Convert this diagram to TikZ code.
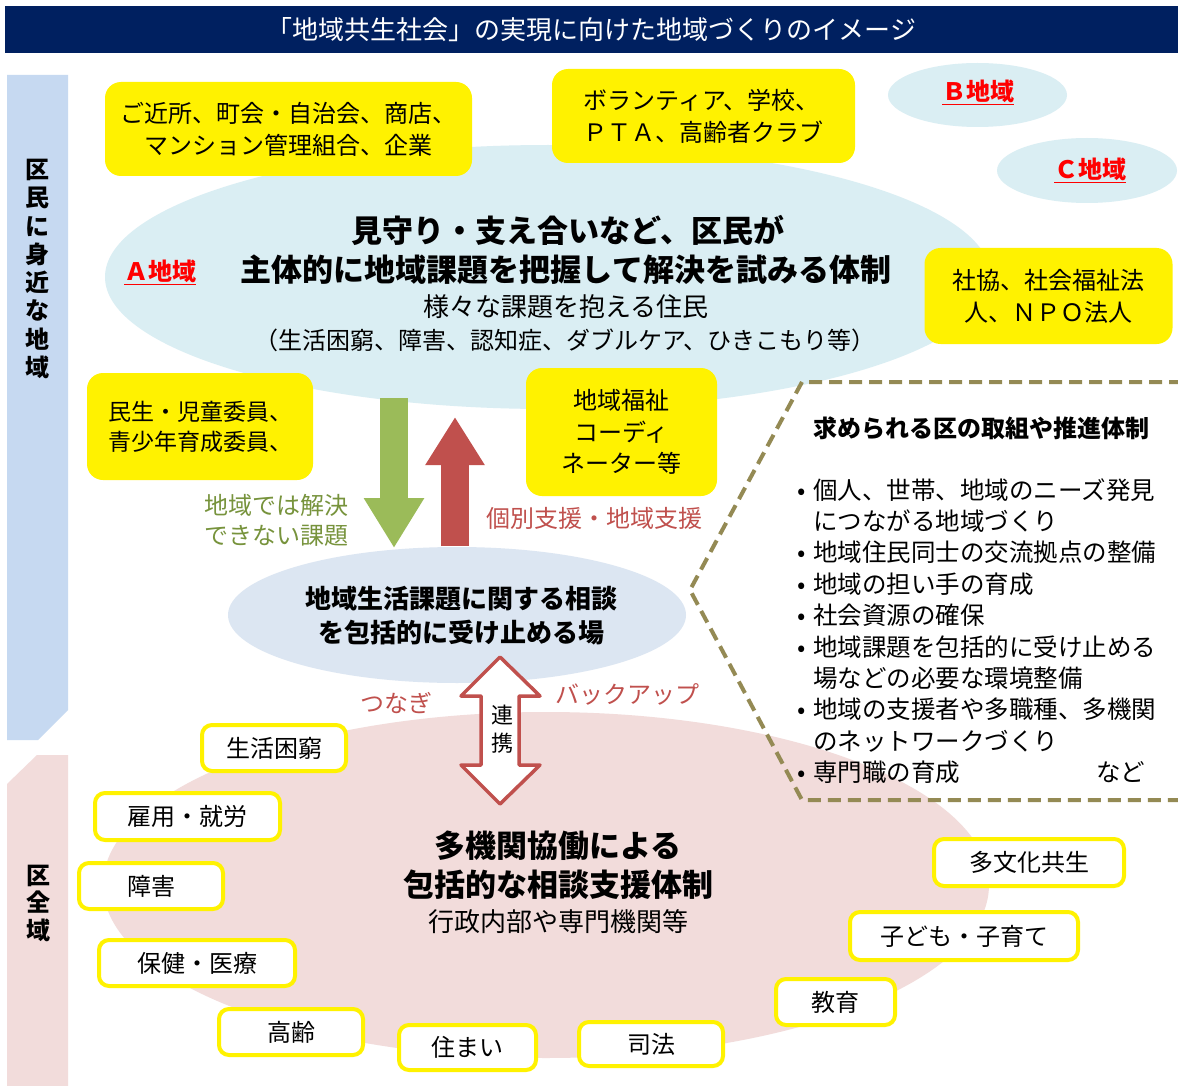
\documentclass[tikz,border=0pt]{standalone}
\usepackage{fontspec}
\setmainfont{Noto Sans CJK JP}
\usetikzlibrary{arrows.meta,shapes.geometric}
\definecolor{navy}{HTML}{002060}
\definecolor{barblue}{HTML}{C6D9F1}
\definecolor{barpink}{HTML}{F2DCDB}
\definecolor{ellA}{HTML}{DAEEF3}
\definecolor{ellM}{HTML}{DCE6F2}
\definecolor{ellP}{HTML}{F2DCDB}
\definecolor{arrgreen}{HTML}{9BBB59}
\definecolor{arrred}{HTML}{C0504D}
\definecolor{txtgreen}{HTML}{77933C}
\definecolor{txtred}{HTML}{C0504D}
\definecolor{olive}{HTML}{948A54}
\newcommand{\fs}[2]{\fontsize{#1}{#2}\selectfont}
\newcommand{\bul}{\makebox[16pt][l]{•}}
\begin{document}
\begin{tikzpicture}[x=1pt,y=-1pt,
  ybox/.style={fill=yellow, rounded corners=16pt, inner sep=0pt, align=center, font=\fs{24}{32}},
  wbox/.style={draw=yellow, line width=4pt, fill=white, rounded corners=10pt, inner sep=0pt, font=\fs{24}{28}},
  ell/.style={ellipse, inner sep=0pt, draw=none},
  lbl/.style={inner sep=0pt, align=center},
  region/.style={inner sep=0pt, text=red, font=\fs{24}{24}\bfseries},
  vlabel/.style={inner sep=0pt, align=center, font=\fs{24}{28.3}\bfseries},
  bigarrow/.style={line width=28pt},
  dashline/.style={draw=olive, line width=4pt, dash pattern=on 13pt off 7pt}
]
\useasboundingbox (0,0) rectangle (1178,1086);
\fill[white] (0,0) rectangle (1178,1086);

% title
\node[fill=navy, minimum width=1173pt, minimum height=47pt, inner sep=0pt, text=white, font=\fs{26}{26}] (title) at (591.5,29.5) {「地域共生社会」の実現に向けた地域づくりのイメージ};

% side bars
\fill[barblue] (7,75) -- (68,75) -- (68,710) -- (38,740) -- (7,740) -- cycle;
\fill[barpink] (7,784) -- (37,755) -- (68,755) -- (68,1086) -- (7,1086) -- cycle;
\node[vlabel] (vl1) at (37,269) {区\\民\\に\\身\\近\\な\\地\\域};
\node[vlabel, font=\fs{24}{27.5}\bfseries] (vl2) at (38,903) {区\\全\\域};

% ellipses
\node[ell, fill=ellA, minimum width=886pt, minimum height=264pt] (A) at (548,277) {};
\node[ell, fill=ellA, minimum width=179pt, minimum height=64pt] (B) at (977.5,95) {};
\node[ell, fill=ellA, minimum width=180pt, minimum height=65pt] (C) at (1087,170.5) {};
\node[ell, fill=ellM, minimum width=458pt, minimum height=136pt] (M) at (457,615) {};
\node[ell, fill=ellP, minimum width=886pt, minimum height=346pt] (P) at (546,885) {};

% dashed area
\draw[dashline, line join=miter] (1182,382) -- (802,382) -- (690,590) -- (802,800) -- (1182,800);

% region labels
\node[region] (la) at (160,272) {\underline{Ａ地域}};
\node[region] (lb) at (978,92) {\underline{Ｂ地域}};
\node[region] (lc) at (1090,170) {\underline{Ｃ地域}};

% texts in A
\node[lbl, font=\fs{31}{31}\bfseries] (a1) at (568,230) {見守り・支え合いなど、区民が};
\node[lbl, font=\fs{31}{31}\bfseries] (a2) at (566,270) {主体的に地域課題を把握して解決を試みる体制};
\node[lbl, font=\fs{26}{26}] (a3) at (566,307) {様々な課題を抱える住民};
\node[lbl, font=\fs{24}{24}] (a4) at (565,340) {（生活困窮、障害、認知症、ダブルケア、ひきこもり等）};

% yellow boxes
\node[ybox, minimum width=367pt, minimum height=94pt] (y1) at (288.5,129) {ご近所、町会・自治会、商店、\\マンション管理組合、企業};
\node[ybox, minimum width=303pt, minimum height=94pt, align=left] (y2) at (703.5,116) {ボランティア、学校、\\ＰＴＡ、高齢者クラブ};
\node[ybox, minimum width=248pt, minimum height=96pt] (y3) at (1048.5,296) {社協、社会福祉法\\人、ＮＰＯ法人};
\node[ybox, minimum width=226pt, minimum height=107pt, align=left, font=\fs{23}{30}] (y4) at (200,426.5) {民生・児童委員、\\青少年育成委員、};
\node[ybox, minimum width=191pt, minimum height=128pt, font=\fs{24}{31.5}] (y5) at (621.5,432) {地域福祉\\コーディ\\ネーター等};

% arrows between A and M
\coordinate (g1) at (394,398);
\coordinate (g2) at (394,548);
\coordinate (r1) at (455,546);
\coordinate (r2) at (455,417);
\draw[bigarrow, draw=arrgreen, -{Triangle[length=50pt,width=57pt]}] (g1) -- (g2);
\draw[bigarrow, draw=arrred, -{Triangle[length=48pt,width=56pt]}] (r1) -- (r2);
\node[lbl, align=left, text=txtgreen, font=\fs{24}{30}] (tg) at (276,520) {地域では解決\\できない課題};
\node[lbl, text=txtred, font=\fs{24}{24}] (tr) at (594,518) {個別支援・地域支援};

% middle ellipse text
\node[lbl, font=\fs{26}{34}\bfseries] (m1) at (461,616) {地域生活課題に関する相談\\を包括的に受け止める場};

% double arrow
\draw[draw=arrred, line width=3.5pt, fill=white, line join=round]
  (500,657) -- (540,696) -- (519,696) -- (519,765) -- (540,765) -- (500,804)
  -- (461,765) -- (481,765) -- (481,696) -- (461,696) -- cycle;
\node[lbl, font=\fs{22}{28}] (rk) at (502,729) {連\\携};
\node[lbl, text=txtred, font=\fs{24}{24}] (tn) at (396,703) {つなぎ};
\node[lbl, text=txtred, font=\fs{24}{24}] (tb) at (627,694) {バックアップ};

% pink ellipse texts
\node[lbl, font=\fs{31}{39}\bfseries] (p1) at (558,865) {多機関協働による\\包括的な相談支援体制};
\node[lbl, font=\fs{26}{26}] (p2) at (558,922) {行政内部や専門機関等};

% white boxes
\node[wbox, minimum width=144pt, minimum height=46pt] (w1) at (274,748) {生活困窮};
\node[wbox, minimum width=185pt, minimum height=47pt] (w2) at (187.5,816.5) {雇用・就労};
\node[wbox, minimum width=144pt, minimum height=46pt] (w3) at (151,886) {障害};
\node[wbox, minimum width=196pt, minimum height=46pt] (w4) at (197,963) {保健・医療};
\node[wbox, minimum width=144pt, minimum height=46pt] (w5) at (291,1032) {高齢};
\node[wbox, minimum width=137pt, minimum height=45pt] (w6) at (467.5,1047.5) {住まい};
\node[wbox, minimum width=144pt, minimum height=44pt] (w7) at (651,1044) {司法};
\node[wbox, minimum width=119pt, minimum height=46pt] (w8) at (835.5,1002) {教育};
\node[wbox, minimum width=228pt, minimum height=48pt] (w9) at (964,936) {子ども・子育て};
\node[wbox, minimum width=190pt, minimum height=47pt] (w10) at (1029,862.5) {多文化共生};

% dashed area texts
\node[lbl, anchor=west, font=\fs{24}{24}\bfseries] (dh) at (813,428) {求められる区の取組や推進体制};
\node[lbl, anchor=north west, align=left, font=\fs{24.5}{31.4}] (dl) at (797,478) {%
\bul 個人、世帯、地域のニーズ発見\\
\hspace*{16pt}につながる地域づくり\\
\bul 地域住民同士の交流拠点の整備\\
\bul 地域の担い手の育成\\
\bul 社会資源の確保\\
\bul 地域課題を包括的に受け止める\\
\hspace*{16pt}場などの必要な環境整備\\
\bul 地域の支援者や多職種、多機関\\
\hspace*{16pt}のネットワークづくり\\
\bul 専門職の育成\hspace*{136pt}など};
\end{tikzpicture}
\end{document}
